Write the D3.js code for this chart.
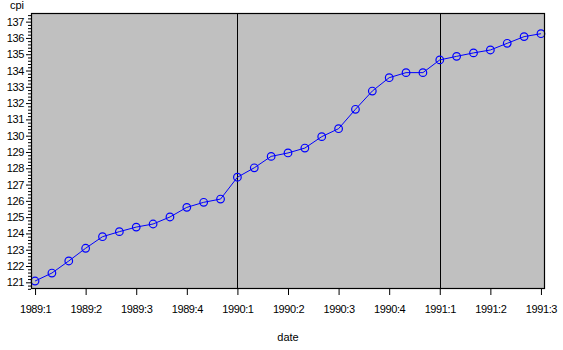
<!DOCTYPE html>
<html>
<head>
<meta charset="utf-8">
<script src="https://cdn.jsdelivr.net/npm/d3@7"></script>
<style>
  body { margin: 0; background: #fff; }
  text { font-family: "Liberation Sans", Arial, sans-serif; font-size: 11px; fill: #000; }
</style>
</head>
<body>
<div id="chart"></div>
<script>
// monthly cpi values, 1989:1 (Jan) to 1991:7
var cpi = [121.08, 121.57, 122.31, 123.09, 123.80, 124.11, 124.39, 124.58, 125.01,
  125.60, 125.91, 126.11, 127.45, 128.03, 128.73, 128.94, 129.24, 129.94,
  130.43, 131.62, 132.74, 133.56, 133.87, 133.87, 134.65, 134.87, 135.08,
  135.26, 135.67, 136.08, 136.26];

// quarter tick labels, one every 3 months
var tickLabels = ["1989:1", "1989:2", "1989:3", "1989:4", "1990:1", "1990:2",
  "1990:3", "1990:4", "1991:1", "1991:2", "1991:3"];
var tickMonths = [0, 3, 6, 9, 12, 15, 18, 21, 24, 27, 30];

// year breaks (vertical lines)
var yearBreaks = [12, 24];

var yTicks = [121, 122, 123, 124, 125, 126, 127, 128, 129, 130, 131, 132, 133, 134, 135, 136, 137];

var svgWidth = 563;
var svgHeight = 350;

var plot = { left: 31, top: 13, right: 545, bottom: 289 };

var svg = d3.select("#chart").append("svg")
  .attr("width", svgWidth)
  .attr("height", svgHeight);

var x = d3.scaleLinear()
  .domain([-0.24, 30.24])
  .range([plot.left, plot.right]);

var y = d3.scaleLinear()
  .domain([120.59, 137.53])
  .range([plot.bottom, plot.top]);

// gray background
svg.append("rect")
  .attr("x", plot.left)
  .attr("y", plot.top)
  .attr("width", plot.right - plot.left)
  .attr("height", plot.bottom - plot.top)
  .attr("fill", "#c0c0c0");

// year break lines
svg.selectAll(".brk")
  .data(yearBreaks)
  .enter()
  .append("line")
  .attr("x1", d => Math.round(x(d)) + 0.5)
  .attr("x2", d => Math.round(x(d)) + 0.5)
  .attr("y1", plot.top)
  .attr("y2", plot.bottom)
  .attr("stroke", "#000")
  .attr("stroke-width", 1);

// line + markers
var line = d3.line()
  .x((d, i) => x(i))
  .y(d => y(d));

svg.append("path")
  .datum(cpi)
  .attr("d", line)
  .attr("fill", "none")
  .attr("stroke", "#0000ff")
  .attr("stroke-width", 1);

svg.selectAll(".pt")
  .data(cpi)
  .enter()
  .append("circle")
  .attr("cx", (d, i) => x(i))
  .attr("cy", d => y(d))
  .attr("r", 3.8)
  .attr("fill", "none")
  .attr("stroke", "#0000ff")
  .attr("stroke-width", 1.2);

// frame
svg.append("rect")
  .attr("x", plot.left + 0.5)
  .attr("y", plot.top + 0.5)
  .attr("width", plot.right - plot.left - 1)
  .attr("height", plot.bottom - plot.top - 1)
  .attr("fill", "none")
  .attr("stroke", "#000")
  .attr("stroke-width", 1.2);

// y axis
var leftAxis = d3.axisLeft(y)
  .tickValues(yTicks)
  .tickFormat(d3.format("d"))
  .tickSize(5)
  .tickPadding(2);

var yAxis = svg.append("g")
  .attr("transform", `translate(${plot.left}, 0)`)
  .call(leftAxis);
yAxis.select(".domain").remove();

// minor y ticks every 0.2
var minor = d3.range(120.6, 137.5, 0.2).filter(v => Math.abs(v - Math.round(v)) > 0.05);
svg.append("g")
  .attr("transform", `translate(${plot.left}, 0)`)
  .call(d3.axisLeft(y).tickValues(minor).tickSize(3).tickFormat(""))
  .select(".domain").remove();

// x axis
var bottomAxis = d3.axisBottom(x)
  .tickValues(tickMonths)
  .tickFormat((d, i) => tickLabels[i])
  .tickSize(6)
  .tickPadding(10);

var xAxis = svg.append("g")
  .attr("transform", `translate(0, ${plot.bottom})`)
  .call(bottomAxis);
xAxis.select(".domain").remove();

svg.selectAll(".tick line").attr("stroke", "#000");
svg.selectAll(".tick text")
  .style("font-family", "'Liberation Sans', Arial, sans-serif")
  .style("font-size", "11px")
  .style("letter-spacing", "-0.4px");

// axis titles
svg.append("text")
  .attr("x", 10)
  .attr("y", 9)
  .text("cpi");

svg.append("text")
  .attr("x", 288)
  .attr("y", 341)
  .attr("text-anchor", "middle")
  .text("date");
</script>
</body>
</html>
